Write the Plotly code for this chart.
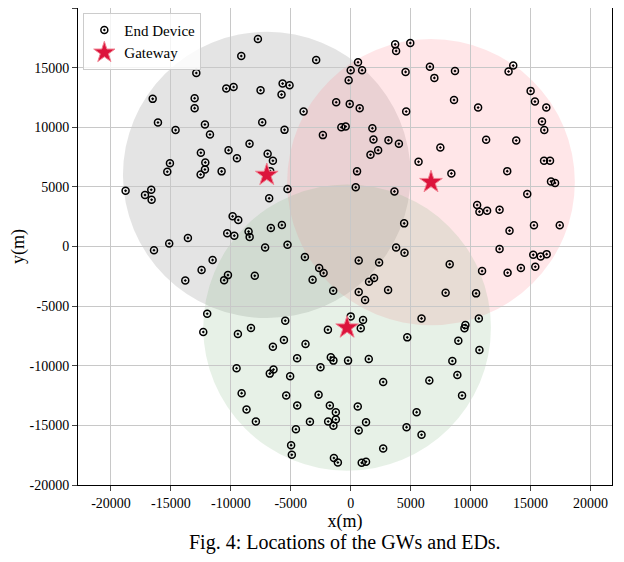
import plotly.graph_objects as go

# end device locations (m)
ed_x = [-7740, -9130, -2880, -12880, -10380, -9770, -7520, -5680, -5100, -5770,
        -16520, -13020, -13020, -3930, -1210, -16080, -14610, -12160, -11740, -7380,
        -5520, -2320, -8440, -12500, -10190, -9490, -6930, -6490, -15080, -12130,
        -15300, -12160, -12520, -10770, -6710, -5270, -18780, -16640, -17160, -16610,
        -6800, -9850, -9380, -10300, -9710, -8520, -8430, -6660, -5740, -13580,
        3710, 3790, 4970, 610, 0, 950, -170, 4580, 6610, 6980,
        8700, 13170, 13560, 15010, 15370, 16320, 8620, 10630, -80, 750,
        4630, -780, -420, 1810, 15960, 16150, 1900, 3150, 4020, 2290,
        1650, 7480, 11300, 13810, 5660, 16130, 16630, 530, 8400, 13060,
        16710, 17050, 420, 3650, 14730, 10550, 10740, 11380, 12420, 4460,
        13250, 15290, 17440,
        -16410, -15140, -11520, -12440, -13800, -10240, -10560, -8000, -7140, -5270,
        -3820, -2630, -2260, -3180, -1460, -11970, -12300, -9410, -8320, -5460,
        -1900, -6490, -5570, -3770, -4470, -1660, -1440, -2520, -9520, -6440,
        -6750, -5050, -9100, -5380, -2680, -4460, -1740, -1240, -1240, -1880,
        -1440, -8690, -7910, -3400, -4570, -4970, -4910, -1400, -1070,
        3790, 4490, 12420, 15230, 15850, 16350, 15400, 14200, 13090, 10960,
        8260, 670, 2370, 1530, 1950, 670, 1200, 3120, 7920, 10460,
        0, 1030, 840, 5910, 10690, 9570, 9490, 4720, 8980, 10740,
        -220, 1510, 8480, 8900, 2710, 6560, 9290, 590, 5500, 1280,
        670, 4660, 5910, 2710, 920, 1280]
ed_y = [17400, 15980, 15640, 14550, 13240, 13380, 13100, 13660, 13520, 12740,
        12380, 12430, 11600, 11320, 12100, 10400, 9760, 10230, 9390, 10420,
        9780, 9340, 8620, 7860, 8080, 7410, 7770, 7190, 6990, 7050,
        6270, 6460, 6040, 6300, 6320, 4820, 4680, 4760, 4320, 3920,
        4040, 2530, 2220, 1110, 910, 1250, 800, 1550, 1800, 720,
        16950, 16400, 17060, 15450, 14780, 14780, 13940, 14640, 15080, 14140,
        14720, 14670, 15170, 13050, 12150, 11650, 12290, 11650, 11960, 11600,
        11320, 10000, 10060, 9920, 10480, 9760, 8970, 8920, 8610, 8080,
        7690, 8300, 8950, 8890, 7100, 7190, 7190, 6300, 6130, 6320,
        5460, 5320, 4960, 4620, 4400, 3480, 2920, 3000, 3090, 1940,
        1330, 1780, 1780,
        -310, 250, -1140, -1980, -2850, -2400, -2820, -2460, -80, 140,
        -890, -1810, -2230, -2790, -3710, -5640, -7170, -7340, -6840, -6220,
        -6980, -8400, -7840, -8170, -9370, -9290, -9570, -10130, -10210, -10320,
        -10660, -10880, -12300, -12500, -12440, -13340, -13340, -13890, -14510, -14680,
        -15040, -13670, -14680, -14700, -15320, -16660, -17470, -17740, -18110,
        -80, -530, -200, -700, -840, -640, -1700, -1810, -2200, -2060,
        -1480, -1170, -1340, -2960, -2650, -3820, -4490, -3650, -3880, -3930,
        -5860, -6170, -6860, -6030, -6030, -6580, -6860, -7620, -7900, -8680,
        -9570, -9430, -9600, -10770, -11360, -11240, -12500, -13420, -13890, -14730,
        -15430, -15150, -15790, -16940, -18140, -18050]

# gateways and their coverage
gw_x = [-7000, 6700, -300]
gw_y = [6000, 5400, -6800]
gw_radius = 12000
gw_fill = ["rgba(130,130,130,0.22)", "rgba(255,140,150,0.22)", "rgba(120,180,120,0.18)"]

ticks = list(range(-20000, 20001, 5000))
tick_text = [str(t) for t in ticks]

fig = go.Figure()
for cx, cy, col in zip(gw_x, gw_y, gw_fill):
    fig.add_shape(type="circle", xref="x", yref="y",
                  x0=cx - gw_radius, x1=cx + gw_radius,
                  y0=cy - gw_radius, y1=cy + gw_radius,
                  fillcolor=col, line=dict(width=0), layer="below")

fig.add_trace(go.Scatter(x=ed_x, y=ed_y, mode="markers", name="End Device",
                         marker=dict(symbol="circle-open-dot", size=7, color="black",
                                     line=dict(width=1.5, color="black"))))
fig.add_trace(go.Scatter(x=gw_x, y=gw_y, mode="markers", name="Gateway",
                         marker=dict(symbol="star", size=17, color="crimson",
                                     line=dict(width=1, color="#f08090"))))

fig.update_layout(
    width=624, height=562,
    margin=dict(l=70, r=20, t=0, b=85),
    plot_bgcolor="white", paper_bgcolor="white",
    font=dict(family="Liberation Serif", size=15, color="black"),
    showlegend=True,
    legend=dict(x=0.01, y=0.99, xanchor="left", yanchor="top",
                bordercolor="#cccccc", borderwidth=1, bgcolor="rgba(255,255,255,0.8)",
                font=dict(size=15)),
    annotations=[dict(text="Fig. 4: Locations of the GWs and EDs.", x=0.5, y=-0.092,
                      xref="paper", yref="paper", showarrow=False, yanchor="top",
                      font=dict(size=20))],
)
fig.update_xaxes(range=[-22750, 21800], tickvals=ticks, ticktext=tick_text, automargin=False,
                 showgrid=True, gridcolor="#c8c8c8", zeroline=False,
                 showline=True, linecolor="black", mirror=True, ticks="outside",
                 title=dict(text="x(m)", standoff=2), tickfont=dict(size=14))
fig.update_yaxes(range=[-20000, 20000], tickvals=ticks, ticktext=tick_text, automargin=False,
                 showgrid=True, gridcolor="#c8c8c8", zeroline=False,
                 showline=True, linecolor="black", mirror=True, ticks="outside",
                 title=dict(text="y(m)", standoff=2), tickfont=dict(size=14))

fig.write_html("out.html")
